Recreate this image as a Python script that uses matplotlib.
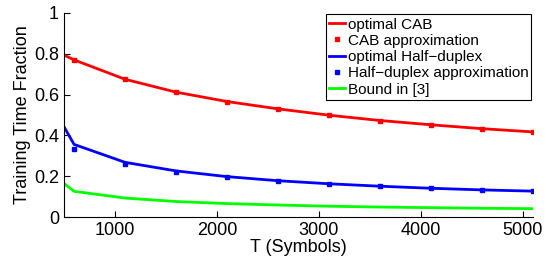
import matplotlib
matplotlib.use("Agg")
import matplotlib.pyplot as plt

plt.rcParams["font.family"] = ["Liberation Sans", "DejaVu Sans"]

# Datos
T = [500, 600, 1100, 1600, 2100, 2600, 3100, 3600, 4100, 4600, 5100]
cab_opt = [0.794, 0.770, 0.675, 0.612, 0.566, 0.530, 0.499, 0.473, 0.452, 0.433, 0.417]
T_aprox = [600, 1100, 1600, 2100, 2600, 3100, 3600, 4100, 4600, 5100]
cab_aprox = [0.770, 0.676, 0.611, 0.565, 0.530, 0.498, 0.472, 0.451, 0.433, 0.416]
hd_opt = [0.443, 0.356, 0.268, 0.226, 0.198, 0.178, 0.163, 0.151, 0.141, 0.133, 0.127]
hd_aprox = [0.335, 0.260, 0.219, 0.195, 0.177, 0.162, 0.150, 0.140, 0.132, 0.127]
bound = [0.165, 0.126, 0.093, 0.076, 0.066, 0.059, 0.053, 0.049, 0.046, 0.043, 0.041]

fig = plt.figure(figsize=(5.46, 2.59), dpi=100)
ax = fig.add_axes([0.117, 0.162, 0.859, 0.788])

ax.plot(T, cab_opt, color="#ff0000", linewidth=2.0, label="optimal CAB")
ax.plot(T_aprox, cab_aprox, "s", color="#ff0000", markersize=3.2, label="CAB approximation")
ax.plot(T, hd_opt, color="#0000ff", linewidth=2.0, label="optimal Half\u2212duplex")
ax.plot(T_aprox, hd_aprox, "s", color="#0000ff", markersize=3.2, label="Half\u2212duplex approximation")
ax.plot(T, bound, color="#00ff00", linewidth=2.0, label="Bound in [3]")

ax.set_xlim(500, 5100)
ax.set_ylim(0, 1)
ax.set_xticks([1000, 2000, 3000, 4000, 5000])
ax.set_yticks([0, 0.2, 0.4, 0.6, 0.8, 1])
ax.set_yticklabels(["0", "0.2", "0.4", "0.6", "0.8", "1"])
ax.tick_params(labelsize=13, direction="in", length=4)
ax.spines["top"].set_visible(False)
ax.spines["right"].set_visible(False)

ax.set_xlabel("T (Symbols)", fontsize=13, labelpad=0)
ax.set_ylabel("Training Time Fraction", fontsize=13, labelpad=2)

leg = ax.legend(loc="upper right", fontsize=11, handlelength=1.0, handletextpad=0.2,
                borderpad=0.2, labelspacing=0.15, fancybox=False, framealpha=1,
                borderaxespad=0.1, markerscale=0.8)
leg.get_frame().set_edgecolor("black")
leg.get_frame().set_linewidth(0.8)

fig.savefig("out.png", dpi=100)
